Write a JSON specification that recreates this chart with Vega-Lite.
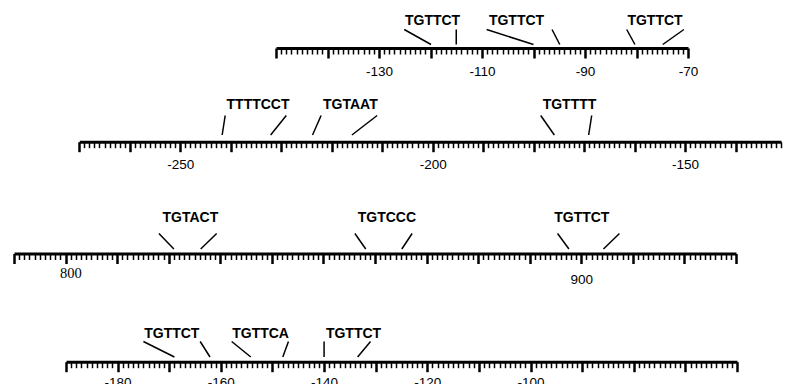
{
  "$schema": "https://vega.github.io/schema/vega-lite/v6.json",
  "width": 793,
  "height": 384,
  "autosize": "none",
  "padding": 0,
  "background": "white",
  "config": {"view": {"stroke": null}},
  "datasets": {
    "seg": [
      {"r": 1, "xt": -125.1, "xb": -119.9},
      {"r": 1, "xt": -115.0, "xb": -115.0},
      {"r": 1, "xt": -109.1, "xb": -100.0},
      {"r": 1, "xt": -96.4, "xb": -94.9},
      {"r": 1, "xt": -81.9, "xb": -80.3},
      {"r": 1, "xt": -70.8, "xb": -74.9},
      {"r": 2, "xt": -241.1, "xb": -241.7},
      {"r": 2, "xt": -229.0, "xb": -232.1},
      {"r": 2, "xt": -222.1, "xb": -223.8},
      {"r": 2, "xt": -211.0, "xb": -216.0},
      {"r": 2, "xt": -178.6, "xb": -175.9},
      {"r": 2, "xt": -168.5, "xb": -169.1},
      {"r": 3, "xt": 818.1, "xb": 821.0},
      {"r": 3, "xt": 829.3, "xb": 826.2},
      {"r": 3, "xt": 856.1, "xb": 858.2},
      {"r": 3, "xt": 867.2, "xb": 865.2},
      {"r": 3, "xt": 895.4, "xb": 897.6},
      {"r": 3, "xt": 907.4, "xb": 904.3},
      {"r": 4, "xt": -175.0, "xb": -169.0},
      {"r": 4, "xt": -164.0, "xb": -162.1},
      {"r": 4, "xt": -157.9, "xb": -154.2},
      {"r": 4, "xt": -146.9, "xb": -148.0},
      {"r": 4, "xt": -140.0, "xb": -140.0},
      {"r": 4, "xt": -131.0, "xb": -133.5}
    ],
    "txt": [
      {"r": 1, "x": -119.6, "motif": "TGTTCT"},
      {"r": 1, "x": -103.3, "motif": "TGTTCT"},
      {"r": 1, "x": -76.4, "motif": "TGTTCT"},
      {"r": 2, "x": -234.6, "motif": "TTTTCCT"},
      {"r": 2, "x": -216.3, "motif": "TGTAAT"},
      {"r": 2, "x": -172.9, "motif": "TGTTTT"},
      {"r": 3, "x": 824.2, "motif": "TGTACT"},
      {"r": 3, "x": 862.3, "motif": "TGTCCC"},
      {"r": 3, "x": 900.1, "motif": "TGTTCT"},
      {"r": 4, "x": -169.5, "motif": "TGTTCT"},
      {"r": 4, "x": -152.3, "motif": "TGTTCA"},
      {"r": 4, "x": -134.3, "motif": "TGTTCT"}
    ]
  },
  "layer": [
    {
      "layer": [
        {
          "data": {"name": "seg"},
          "transform": [{"filter": "datum.r === 1"}],
          "mark": {"type": "rule", "strokeWidth": 1.5, "color": "black"},
          "encoding": {
            "x": {"field": "xt", "type": "quantitative",
              "scale": {"domain": [-150, -70], "range": [276, 688], "nice": false, "zero": false},
              "axis": {"orient": "bottom", "offset": -336, "title": null, "grid": false,
                "tickCount": 80, "domainWidth": 3, "domainColor": "black", "domainCap": "butt", "tickColor": "black",
                "tickSize": {"condition": {"test": "datum.value % 10 === 0", "value": 10}, "value": 6},
                "tickWidth": {"condition": {"test": "datum.value % 10 === 0", "value": 2.5}, "value": 1.5},
                "labelExpr": "datum.value % 20 === -10 && datum.value > -140 ? '' + datum.value : ''",
                "labelOverlap": false, "labelFlush": false, "labelBound": false,
                "labelFont": "Liberation Sans", "labelFontSize": 13.5, "labelColor": "black", "labelPadding": 6}},
            "x2": {"field": "xb"},
            "y": {"datum": 1, "type": "quantitative", "scale": {"domain": [0, 1], "range": [44.5, 29.5]}, "axis": null},
            "y2": {"datum": 0}
          }
        },
        {
          "data": {"name": "txt"},
          "transform": [{"filter": "datum.r === 1"}],
          "mark": {"type": "text", "font": "Liberation Sans", "fontWeight": "bold", "fontSize": 14, "color": "black", "baseline": "middle"},
          "encoding": {
            "x": {"field": "x", "type": "quantitative"},
            "y": {"datum": 1.6, "type": "quantitative", "axis": null},
            "text": {"field": "motif"}
          }
        }
      ]
    },
    {
      "layer": [
        {
          "data": {"name": "seg"},
          "transform": [{"filter": "datum.r === 2"}],
          "mark": {"type": "rule", "strokeWidth": 1.5, "color": "black"},
          "encoding": {
            "x": {"field": "xt", "type": "quantitative",
              "scale": {"domain": [-270, -131], "range": [79.3, 781], "nice": false, "zero": false},
              "axis": {"orient": "bottom", "offset": -242.3, "title": null, "grid": false,
                "tickCount": 139, "domainWidth": 3, "domainColor": "black", "domainCap": "butt", "tickColor": "black",
                "tickSize": {"condition": {"test": "datum.value % 10 === 0", "value": 10}, "value": 6},
                "tickWidth": {"condition": {"test": "datum.value % 10 === 0", "value": 2.5}, "value": 1.5},
                "labelExpr": "datum.value % 50 === 0 ? '' + datum.value : ''",
                "labelOverlap": false, "labelFlush": false, "labelBound": false,
                "labelFont": "Liberation Sans", "labelFontSize": 13.5, "labelColor": "black", "labelPadding": 5.6}},
            "x2": {"field": "xb"},
            "y": {"datum": 1, "type": "quantitative", "scale": {"domain": [0, 1], "range": [135, 115.5]}, "axis": null},
            "y2": {"datum": 0}
          }
        },
        {
          "data": {"name": "txt"},
          "transform": [{"filter": "datum.r === 2"}],
          "mark": {"type": "text", "font": "Liberation Sans", "fontWeight": "bold", "fontSize": 14, "color": "black", "baseline": "middle"},
          "encoding": {
            "x": {"field": "x", "type": "quantitative"},
            "y": {"datum": 1.54, "type": "quantitative", "axis": null},
            "text": {"field": "motif"}
          }
        }
      ]
    },
    {
      "layer": [
        {
          "data": {"name": "seg"},
          "transform": [{"filter": "datum.r === 3"}],
          "mark": {"type": "rule", "strokeWidth": 1.5, "color": "black"},
          "encoding": {
            "x": {"field": "xt", "type": "quantitative",
              "scale": {"domain": [790, 930], "range": [14, 736], "nice": false, "zero": false},
              "axis": {"orient": "bottom", "offset": -130.5, "title": null, "grid": false,
                "tickCount": 140, "domainWidth": 3, "domainColor": "black", "domainCap": "butt", "tickColor": "black",
                "tickSize": {"condition": {"test": "datum.value % 10 === 0", "value": 10}, "value": 6},
                "tickWidth": {"condition": {"test": "datum.value % 10 === 0", "value": 2.5}, "value": 1.5},
                "labelExpr": "datum.value % 100 === 0 ? '' + datum.value : ''",
                "labelOverlap": false, "labelFlush": false, "labelBound": false,
                "labelFont": {"condition": {"test": "datum.value === 800", "value": "Liberation Serif"}, "value": "Liberation Sans"},
                "labelFontSize": {"condition": {"test": "datum.value === 800", "value": 14.5}, "value": 13.5},
                "labelPadding": {"condition": {"test": "datum.value === 800", "value": 3.2}, "value": 8.8},
                "labelOffset": {"condition": {"test": "datum.value === 800", "value": 4.7}, "value": 0},
                "labelColor": "black"}},
            "x2": {"field": "xb"},
            "y": {"datum": 1, "type": "quantitative", "scale": {"domain": [0, 1], "range": [249, 233.5]}, "axis": null},
            "y2": {"datum": 0}
          }
        },
        {
          "data": {"name": "txt"},
          "transform": [{"filter": "datum.r === 3"}],
          "mark": {"type": "text", "font": "Liberation Sans", "fontWeight": "bold", "fontSize": 14, "color": "black", "baseline": "middle"},
          "encoding": {
            "x": {"field": "x", "type": "quantitative"},
            "y": {"datum": 2.03, "type": "quantitative", "axis": null},
            "text": {"field": "motif"}
          }
        }
      ]
    },
    {
      "layer": [
        {
          "data": {"name": "seg"},
          "transform": [{"filter": "datum.r === 4"}],
          "mark": {"type": "rule", "strokeWidth": 1.5, "color": "black"},
          "encoding": {
            "x": {"field": "xt", "type": "quantitative",
              "scale": {"domain": [-190, -60], "range": [66, 737], "nice": false, "zero": false},
              "axis": {"orient": "bottom", "offset": -22.3, "title": null, "grid": false,
                "tickCount": 130, "domainWidth": 3, "domainColor": "black", "domainCap": "butt", "tickColor": "black",
                "tickSize": {"condition": {"test": "datum.value % 10 === 0", "value": 10}, "value": 6},
                "tickWidth": {"condition": {"test": "datum.value % 10 === 0", "value": 2.5}, "value": 1.5},
                "labelExpr": "datum.value % 20 === 0 && datum.value <= -100 ? '' + datum.value : ''",
                "labelOverlap": false, "labelFlush": false, "labelBound": false,
                "labelFont": "Liberation Sans", "labelFontSize": 13.5, "labelColor": "black", "labelPadding": 3.3}},
            "x2": {"field": "xb"},
            "y": {"datum": 1, "type": "quantitative", "scale": {"domain": [0, 1], "range": [357, 341.5]}, "axis": null},
            "y2": {"datum": 0}
          }
        },
        {
          "data": {"name": "txt"},
          "transform": [{"filter": "datum.r === 4"}],
          "mark": {"type": "text", "font": "Liberation Sans", "fontWeight": "bold", "fontSize": 14, "color": "black", "baseline": "middle"},
          "encoding": {
            "x": {"field": "x", "type": "quantitative"},
            "y": {"datum": 1.48, "type": "quantitative", "axis": null},
            "text": {"field": "motif"}
          }
        }
      ]
    }
  ],
  "resolve": {"scale": {"x": "independent", "y": "independent"}, "axis": {"x": "independent", "y": "independent"}}
}
